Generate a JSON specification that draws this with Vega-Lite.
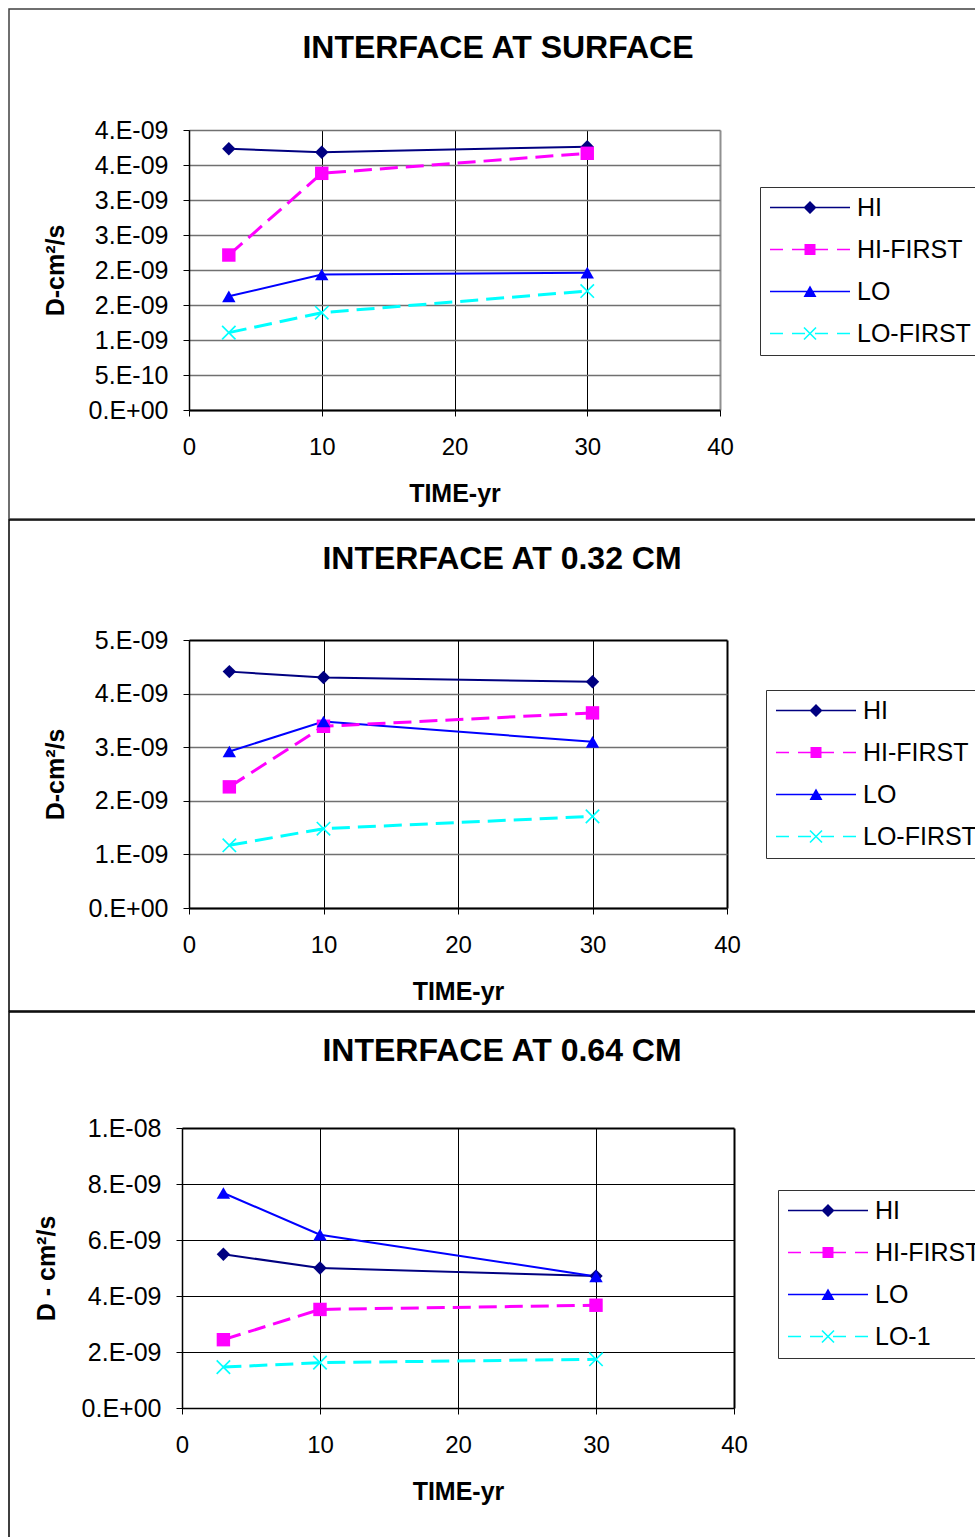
{
  "$schema": "https://vega.github.io/schema/vega-lite/v6.json",
  "background": "white",
  "padding": {"left": 8, "top": 8, "right": 0, "bottom": 0},
  "spacing": -1,
  "data": {
    "values": [
      {"p": 1, "series": "HI", "time": 3, "D": 3.733e-9},
      {"p": 1, "series": "HI", "time": 10, "D": 3.681e-9},
      {"p": 1, "series": "HI", "time": 30, "D": 3.762e-9},
      {"p": 1, "series": "HI-FIRST", "time": 3, "D": 2.214e-9},
      {"p": 1, "series": "HI-FIRST", "time": 10, "D": 3.381e-9},
      {"p": 1, "series": "HI-FIRST", "time": 30, "D": 3.667e-9},
      {"p": 1, "series": "LO", "time": 3, "D": 1.624e-9},
      {"p": 1, "series": "LO", "time": 10, "D": 1.935e-9},
      {"p": 1, "series": "LO", "time": 30, "D": 1.962e-9},
      {"p": 1, "series": "LO-FIRST", "time": 3, "D": 1.105e-9},
      {"p": 1, "series": "LO-FIRST", "time": 10, "D": 1.39e-9},
      {"p": 1, "series": "LO-FIRST", "time": 30, "D": 1.70e-9},
      {"p": 2, "series": "HI", "time": 3, "D": 4.41e-9},
      {"p": 2, "series": "HI", "time": 10, "D": 4.30e-9},
      {"p": 2, "series": "HI", "time": 30, "D": 4.22e-9},
      {"p": 2, "series": "HI-FIRST", "time": 3, "D": 2.26e-9},
      {"p": 2, "series": "HI-FIRST", "time": 10, "D": 3.39e-9},
      {"p": 2, "series": "HI-FIRST", "time": 30, "D": 3.64e-9},
      {"p": 2, "series": "LO", "time": 3, "D": 2.92e-9},
      {"p": 2, "series": "LO", "time": 10, "D": 3.48e-9},
      {"p": 2, "series": "LO", "time": 30, "D": 3.10e-9},
      {"p": 2, "series": "LO-FIRST", "time": 3, "D": 1.17e-9},
      {"p": 2, "series": "LO-FIRST", "time": 10, "D": 1.48e-9},
      {"p": 2, "series": "LO-FIRST", "time": 30, "D": 1.71e-9},
      {"p": 3, "series": "HI", "time": 3, "D": 5.49e-9},
      {"p": 3, "series": "HI", "time": 10, "D": 5.00e-9},
      {"p": 3, "series": "HI", "time": 30, "D": 4.71e-9},
      {"p": 3, "series": "HI-FIRST", "time": 3, "D": 2.44e-9},
      {"p": 3, "series": "HI-FIRST", "time": 10, "D": 3.52e-9},
      {"p": 3, "series": "HI-FIRST", "time": 30, "D": 3.67e-9},
      {"p": 3, "series": "LO", "time": 3, "D": 7.68e-9},
      {"p": 3, "series": "LO", "time": 10, "D": 6.19e-9},
      {"p": 3, "series": "LO", "time": 30, "D": 4.70e-9},
      {"p": 3, "series": "LO-1", "time": 3, "D": 1.46e-9},
      {"p": 3, "series": "LO-1", "time": 10, "D": 1.62e-9},
      {"p": 3, "series": "LO-1", "time": 30, "D": 1.74e-9}
    ]
  },
  "resolve": {
    "scale": {"x": "independent", "y": "independent", "color": "independent", "shape": "independent"},
    "legend": {"color": "independent", "shape": "independent"}
  },
  "vconcat": [
    {
      "width": 968,
      "height": 510,
      "view": {"stroke": "#404040", "strokeWidth": 1.5},
      "title": {"text": "INTERFACE AT SURFACE", "fontSize": 32, "font": "Liberation Sans", "fontWeight": "bold", "color": "black", "anchor": "middle", "frame": "group", "baseline": "alphabetic", "offset": -81, "dx": 5},
      "transform": [{"filter": "datum.p == 1"}],
      "resolve": {"scale": {"color": "independent", "shape": "independent"}},
      "encoding": {
        "x": {"field": "time", "type": "quantitative",
          "scale": {"domain": [0, 40], "range": [180, 711], "nice": false, "zero": false},
          "axis": {"orient": "bottom", "offset": -109, "values": [0, 10, 20, 30, 40], "title": "TIME-yr", "grid": false,
            "labelPadding": 19.5, "titlePadding": 22, "domainWidth": 2}},
        "y": {"field": "D", "type": "quantitative",
          "scale": {"domain": [0, 4e-9], "range": [401, 121], "nice": false, "zero": false},
          "axis": {"orient": "left", "offset": -180, "values": [0, 5e-10, 1e-9, 1.5e-9, 2e-9, 2.5e-9, 3e-9, 3.5e-9, 4e-9],
            "title": "D-cm²/s", "labelPadding": 15, "titlePadding": 20, "gridColor": "#707070", "gridWidth": 1.5,
            "labelExpr": "datum.value == 0 ? '0.E+00' : round(datum.value*1e10) < 10 ? round(datum.value*1e10) + '.E-10' : round(datum.value*1e10) >= 100 ? floor((round(datum.value*1e10)+50)/100) + '.E-08' : floor((round(datum.value*1e10)+5)/10) + '.E-09'"}},
        "color": {"field": "series", "type": "nominal", "legend": null,
          "scale": {"domain": ["HI", "HI-FIRST", "LO", "LO-FIRST"], "range": ["#000080", "#FF00FF", "#0000FF", "#00FFFF"]}}
      },
      "layer": [
        {"transform": [{"filter": {"field": "series", "oneOf": ["HI", "LO"]}}],
         "mark": {"type": "line", "strokeWidth": 2},
         "encoding": {"x": {"field": "time", "type": "quantitative",
           "axis": {"orient": "top", "values": [0, 10, 20, 30, 40], "grid": true, "labels": false, "ticks": false, "domain": false, "title": null,
             "gridColor": {"condition": {"test": "datum.value === 40", "value": "#909090"}, "value": "black"},
             "gridWidth": {"condition": {"test": "datum.value === 40", "value": 2}, "value": 1}}}}},
        {"transform": [{"filter": {"field": "series", "oneOf": ["HI-FIRST", "LO-FIRST", "LO-1"]}}],
         "mark": {"type": "line", "strokeWidth": 3, "strokeDash": [18, 8]}},
        {"mark": {"type": "point", "filled": true, "opacity": 1, "size": 180},
         "encoding": {
           "x": {"field": "time", "type": "quantitative", "axis": null},
           "shape": {"field": "series", "type": "nominal", "legend": null,
             "scale": {"domain": ["HI", "HI-FIRST", "LO", "LO-FIRST"], "range": ["diamond", "square", "triangle-up", "M-0.913,-1.087L1.087,0.913L0.913,1.087L-1.087,-0.913ZM0.913,-1.087L1.087,-0.913L-0.913,1.087L-1.087,0.913Z"]}}
         }},
        {"mark": {"type": "point", "filled": true, "opacity": 1, "size": 0},
         "encoding": {
           "x": {"field": "time", "type": "quantitative", "axis": null},
           "color": {"field": "series", "type": "nominal",
             "scale": {"domain": ["HI", "HI-FIRST", "LO", "LO-FIRST"], "range": ["#000080", "#FF00FF", "#0000FF", "#00FFFF"]},
             "legend": {"orient": "none", "legendX": 751, "legendY": 178, "title": null, "padding": 8, "strokeColor": "#333333",
               "symbolSize": 4, "symbolStrokeWidth": 0, "symbolOffset": 29.5, "labelOffset": 34.5, "rowPadding": 16,
               "labelFontSize": 25, "labelFont": "Liberation Sans", "labelColor": "black", "labelLimit": 400}},
           "shape": {"field": "series", "type": "nominal",
             "scale": {"domain": ["HI", "HI-FIRST", "LO", "LO-FIRST"], "range": [
               "M-40,-0.75H40V0.75H-40ZM0,-6.5L6.5,0L0,6.5L-6.5,0Z",
               "M-40,-0.75H-27V0.75H-40ZM-18,-0.75H-5V0.75H-18ZM5,-0.75H18V0.75H5ZM27,-0.75H40V0.75H27ZM-5.5,-5.5H5.5V5.5H-5.5Z",
               "M-40,-0.75H40V0.75H-40ZM0,-6L6.5,5.5H-6.5Z",
               "M-40,-0.75H-27V0.75H-40ZM-18,-0.75H-5V0.75H-18ZM5,-0.75H18V0.75H5ZM27,-0.75H40V0.75H27ZM-5.43,-6.57L6.57,5.43L5.43,6.57L-6.57,-5.43ZM5.43,-6.57L6.57,-5.43L-5.43,6.57L-6.57,5.43Z"]},
             "legend": {"orient": "none", "legendX": 751, "legendY": 178, "title": null, "padding": 8, "strokeColor": "#333333",
               "symbolSize": 4, "symbolStrokeWidth": 0, "symbolOffset": 29.5, "labelOffset": 34.5, "rowPadding": 16,
               "labelFontSize": 25, "labelFont": "Liberation Sans", "labelColor": "black", "labelLimit": 400}}
         }}
      ]
    },
    {
      "width": 968,
      "height": 491,
      "view": {"stroke": "black", "strokeWidth": 1.5},
      "title": {"text": "INTERFACE AT 0.32 CM", "fontSize": 32, "font": "Liberation Sans", "fontWeight": "bold", "color": "black", "anchor": "middle", "frame": "group", "baseline": "alphabetic", "offset": -81, "dx": 9},
      "transform": [{"filter": "datum.p == 2"}],
      "resolve": {"scale": {"color": "independent", "shape": "independent"}},
      "encoding": {
        "x": {"field": "time", "type": "quantitative",
          "scale": {"domain": [0, 40], "range": [180, 718], "nice": false, "zero": false},
          "axis": {"orient": "bottom", "offset": -103, "values": [0, 10, 20, 30, 40], "title": "TIME-yr", "grid": false,
            "labelPadding": 19.5, "titlePadding": 22, "domainWidth": 2}},
        "y": {"field": "D", "type": "quantitative",
          "scale": {"domain": [0, 5e-9], "range": [388, 120], "nice": false, "zero": false},
          "axis": {"orient": "left", "offset": -180, "values": [0, 1e-9, 2e-9, 3e-9, 4e-9, 5e-9],
            "title": "D-cm²/s", "labelPadding": 15, "titlePadding": 20,
            "gridColor": {"condition": {"test": "datum.value > 4.9e-9", "value": "black"}, "value": "#707070"},
            "gridWidth": {"condition": {"test": "datum.value > 4.9e-9", "value": 2}, "value": 1.5},
            "labelExpr": "datum.value == 0 ? '0.E+00' : round(datum.value*1e10) < 10 ? round(datum.value*1e10) + '.E-10' : round(datum.value*1e10) >= 100 ? floor((round(datum.value*1e10)+50)/100) + '.E-08' : floor((round(datum.value*1e10)+5)/10) + '.E-09'"}},
        "color": {"field": "series", "type": "nominal", "legend": null,
          "scale": {"domain": ["HI", "HI-FIRST", "LO", "LO-FIRST"], "range": ["#000080", "#FF00FF", "#0000FF", "#00FFFF"]}}
      },
      "layer": [
        {"transform": [{"filter": {"field": "series", "oneOf": ["HI", "LO"]}}],
         "mark": {"type": "line", "strokeWidth": 2},
         "encoding": {"x": {"field": "time", "type": "quantitative",
           "axis": {"orient": "top", "values": [0, 10, 20, 30, 40], "grid": true, "labels": false, "ticks": false, "domain": false, "title": null,
             "gridColor": "black",
             "gridWidth": {"condition": {"test": "datum.value === 40", "value": 2}, "value": 1}}}}},
        {"transform": [{"filter": {"field": "series", "oneOf": ["HI-FIRST", "LO-FIRST", "LO-1"]}}],
         "mark": {"type": "line", "strokeWidth": 3, "strokeDash": [18, 8]}},
        {"mark": {"type": "point", "filled": true, "opacity": 1, "size": 180},
         "encoding": {
           "x": {"field": "time", "type": "quantitative", "axis": null},
           "shape": {"field": "series", "type": "nominal", "legend": null,
             "scale": {"domain": ["HI", "HI-FIRST", "LO", "LO-FIRST"], "range": ["diamond", "square", "triangle-up", "M-0.913,-1.087L1.087,0.913L0.913,1.087L-1.087,-0.913ZM0.913,-1.087L1.087,-0.913L-0.913,1.087L-1.087,0.913Z"]}}
         }},
        {"mark": {"type": "point", "filled": true, "opacity": 1, "size": 0},
         "encoding": {
           "x": {"field": "time", "type": "quantitative", "axis": null},
           "color": {"field": "series", "type": "nominal",
             "scale": {"domain": ["HI", "HI-FIRST", "LO", "LO-FIRST"], "range": ["#000080", "#FF00FF", "#0000FF", "#00FFFF"]},
             "legend": {"orient": "none", "legendX": 757, "legendY": 170, "title": null, "padding": 8, "strokeColor": "#333333",
               "symbolSize": 4, "symbolStrokeWidth": 0, "symbolOffset": 29.5, "labelOffset": 34.5, "rowPadding": 16,
               "labelFontSize": 25, "labelFont": "Liberation Sans", "labelColor": "black", "labelLimit": 400}},
           "shape": {"field": "series", "type": "nominal",
             "scale": {"domain": ["HI", "HI-FIRST", "LO", "LO-FIRST"], "range": [
               "M-40,-0.75H40V0.75H-40ZM0,-6.5L6.5,0L0,6.5L-6.5,0Z",
               "M-40,-0.75H-27V0.75H-40ZM-18,-0.75H-5V0.75H-18ZM5,-0.75H18V0.75H5ZM27,-0.75H40V0.75H27ZM-5.5,-5.5H5.5V5.5H-5.5Z",
               "M-40,-0.75H40V0.75H-40ZM0,-6L6.5,5.5H-6.5Z",
               "M-40,-0.75H-27V0.75H-40ZM-18,-0.75H-5V0.75H-18ZM5,-0.75H18V0.75H5ZM27,-0.75H40V0.75H27ZM-5.43,-6.57L6.57,5.43L5.43,6.57L-6.57,-5.43ZM5.43,-6.57L6.57,-5.43L-5.43,6.57L-6.57,5.43Z"]},
             "legend": {"orient": "none", "legendX": 757, "legendY": 170, "title": null, "padding": 8, "strokeColor": "#333333",
               "symbolSize": 4, "symbolStrokeWidth": 0, "symbolOffset": 29.5, "labelOffset": 34.5, "rowPadding": 16,
               "labelFontSize": 25, "labelFont": "Liberation Sans", "labelColor": "black", "labelLimit": 400}}
         }}
      ]
    },
    {
      "width": 968,
      "height": 530,
      "view": {"stroke": "black", "strokeWidth": 1.5},
      "title": {"text": "INTERFACE AT 0.64 CM", "fontSize": 32, "font": "Liberation Sans", "fontWeight": "bold", "color": "black", "anchor": "middle", "frame": "group", "baseline": "alphabetic", "offset": -81, "dx": 9},
      "transform": [{"filter": "datum.p == 3"}],
      "resolve": {"scale": {"color": "independent", "shape": "independent"}},
      "encoding": {
        "x": {"field": "time", "type": "quantitative",
          "scale": {"domain": [0, 40], "range": [173, 725], "nice": false, "zero": false},
          "axis": {"orient": "bottom", "offset": -134, "values": [0, 10, 20, 30, 40], "title": "TIME-yr", "grid": false,
            "labelPadding": 19.5, "titlePadding": 22, "domainWidth": 1.5}},
        "y": {"field": "D", "type": "quantitative",
          "scale": {"domain": [0, 1e-8], "range": [396, 116], "nice": false, "zero": false},
          "axis": {"orient": "left", "offset": -173, "values": [0, 2e-9, 4e-9, 6e-9, 8e-9, 1e-8],
            "title": "D - cm²/s", "labelPadding": 15, "titlePadding": 22,
            "gridColor": "black",
            "gridWidth": {"condition": {"test": "datum.value > 9.9e-9", "value": 2}, "value": 1.2},
            "labelExpr": "datum.value == 0 ? '0.E+00' : round(datum.value*1e10) < 10 ? round(datum.value*1e10) + '.E-10' : round(datum.value*1e10) >= 100 ? floor((round(datum.value*1e10)+50)/100) + '.E-08' : floor((round(datum.value*1e10)+5)/10) + '.E-09'"}},
        "color": {"field": "series", "type": "nominal", "legend": null,
          "scale": {"domain": ["HI", "HI-FIRST", "LO", "LO-1"], "range": ["#000080", "#FF00FF", "#0000FF", "#00FFFF"]}}
      },
      "layer": [
        {"transform": [{"filter": {"field": "series", "oneOf": ["HI", "LO"]}}],
         "mark": {"type": "line", "strokeWidth": 2},
         "encoding": {"x": {"field": "time", "type": "quantitative",
           "axis": {"orient": "top", "values": [0, 10, 20, 30, 40], "grid": true, "labels": false, "ticks": false, "domain": false, "title": null,
             "gridColor": "black",
             "gridWidth": {"condition": {"test": "datum.value === 40", "value": 2}, "value": 1}}}}},
        {"transform": [{"filter": {"field": "series", "oneOf": ["HI-FIRST", "LO-FIRST", "LO-1"]}}],
         "mark": {"type": "line", "strokeWidth": 3, "strokeDash": [18, 8]}},
        {"mark": {"type": "point", "filled": true, "opacity": 1, "size": 180},
         "encoding": {
           "x": {"field": "time", "type": "quantitative", "axis": null},
           "shape": {"field": "series", "type": "nominal", "legend": null,
             "scale": {"domain": ["HI", "HI-FIRST", "LO", "LO-1"], "range": ["diamond", "square", "triangle-up", "M-0.913,-1.087L1.087,0.913L0.913,1.087L-1.087,-0.913ZM0.913,-1.087L1.087,-0.913L-0.913,1.087L-1.087,0.913Z"]}}
         }},
        {"mark": {"type": "point", "filled": true, "opacity": 1, "size": 0},
         "encoding": {
           "x": {"field": "time", "type": "quantitative", "axis": null},
           "color": {"field": "series", "type": "nominal",
             "scale": {"domain": ["HI", "HI-FIRST", "LO", "LO-1"], "range": ["#000080", "#FF00FF", "#0000FF", "#00FFFF"]},
             "legend": {"orient": "none", "legendX": 769, "legendY": 178, "title": null, "padding": 8, "strokeColor": "#333333",
               "symbolSize": 4, "symbolStrokeWidth": 0, "symbolOffset": 29.5, "labelOffset": 34.5, "rowPadding": 16,
               "labelFontSize": 25, "labelFont": "Liberation Sans", "labelColor": "black", "labelLimit": 400}},
           "shape": {"field": "series", "type": "nominal",
             "scale": {"domain": ["HI", "HI-FIRST", "LO", "LO-1"], "range": [
               "M-40,-0.75H40V0.75H-40ZM0,-6.5L6.5,0L0,6.5L-6.5,0Z",
               "M-40,-0.75H-27V0.75H-40ZM-18,-0.75H-5V0.75H-18ZM5,-0.75H18V0.75H5ZM27,-0.75H40V0.75H27ZM-5.5,-5.5H5.5V5.5H-5.5Z",
               "M-40,-0.75H40V0.75H-40ZM0,-6L6.5,5.5H-6.5Z",
               "M-40,-0.75H-27V0.75H-40ZM-18,-0.75H-5V0.75H-18ZM5,-0.75H18V0.75H5ZM27,-0.75H40V0.75H27ZM-5.43,-6.57L6.57,5.43L5.43,6.57L-6.57,-5.43ZM5.43,-6.57L6.57,-5.43L-5.43,6.57L-6.57,5.43Z"]},
             "legend": {"orient": "none", "legendX": 769, "legendY": 178, "title": null, "padding": 8, "strokeColor": "#333333",
               "symbolSize": 4, "symbolStrokeWidth": 0, "symbolOffset": 29.5, "labelOffset": 34.5, "rowPadding": 16,
               "labelFontSize": 25, "labelFont": "Liberation Sans", "labelColor": "black", "labelLimit": 400}}
         }}
      ]
    }
  ],
  "config": {
    "font": "Liberation Sans",
    "axis": {
      "labelFont": "Liberation Sans", "labelFontSize": 24, "labelColor": "black",
      "titleFont": "Liberation Sans", "titleFontSize": 25, "titleFontWeight": "bold", "titleColor": "black",
      "tickColor": "black", "tickSize": 6, "tickWidth": 1, "domainColor": "black", "domainWidth": 1.5,
      "labelFlush": false, "labelOverlap": false
    },
    "axisY": {"labelFontSize": 25, "grid": true}
  }
}
